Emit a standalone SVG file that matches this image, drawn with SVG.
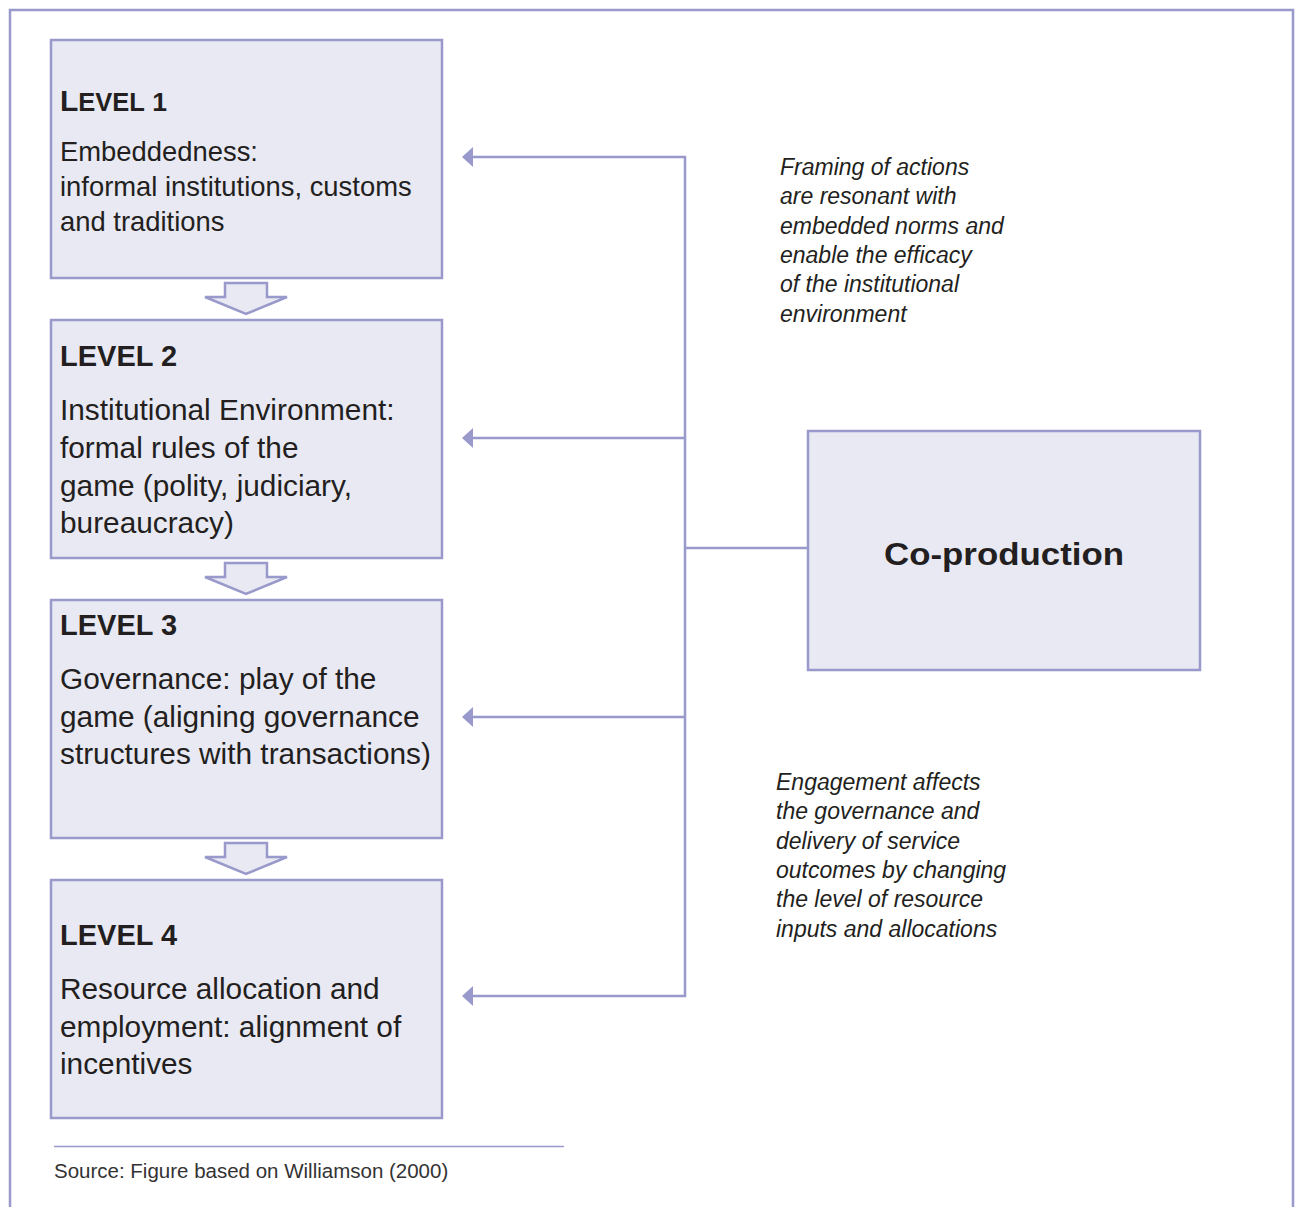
<svg xmlns="http://www.w3.org/2000/svg" width="1297" height="1207" viewBox="0 0 1297 1207">
<style>
.box{fill:#e9e9f3;stroke:#9999cc;stroke-width:2.5}
.blk{fill:#e9e9f3;stroke:#9999cc;stroke-width:2.5;stroke-linejoin:miter}
.ln{fill:none;stroke:#9999cc;stroke-width:2.5}
.ah{fill:#9999cc}
text{font-family:"Liberation Sans",Arial,sans-serif;fill:#231f20}
.hd{font-weight:bold;font-size:29px}
.b1{font-size:27.4px}
.b{font-size:29.8px}
.it{font-style:italic;font-size:23px}
.cp{font-weight:bold;font-size:32px}
.src{font-size:20.5px;fill:#333}
</style>
<rect width="1297" height="1207" fill="#ffffff"/>
<path class="ln" d="M10,1207 V10 H1293 V1207"/>

<g id="level1">
<rect class="box" x="51" y="40" width="391" height="238"/>
<text x="60" y="111" font-weight="bold"><tspan font-size="30">L</tspan><tspan font-size="25.5">EVEL</tspan><tspan font-size="26.5"> 1</tspan></text>
<text class="b1" x="60" y="161">Embeddedness:</text>
<text class="b1" x="60" y="196">informal institutions, customs</text>
<text class="b1" x="60" y="231">and traditions</text>
</g>
<g id="arrow12"><path class="blk" d="M225,283 H267 V297 H287 L246,314 L205,297 H225 Z"/></g>

<g id="level2">
<rect class="box" x="51" y="320" width="391" height="238"/>
<text class="hd" x="60" y="366">LEVEL 2</text>
<text class="b" x="60" y="420">Institutional Environment:</text>
<text class="b" x="60" y="458">formal rules of the</text>
<text class="b" x="60" y="496">game (polity, judiciary,</text>
<text class="b" x="60" y="533">bureaucracy)</text>
</g>
<g id="arrow23"><path class="blk" d="M225,563 H267 V577 H287 L246,594 L205,577 H225 Z"/></g>

<g id="level3">
<rect class="box" x="51" y="600" width="391" height="238"/>
<text class="hd" x="60" y="635">LEVEL 3</text>
<text class="b" x="60" y="689">Governance: play of the</text>
<text class="b" x="60" y="727">game (aligning governance</text>
<text class="b" x="60" y="764">structures with transactions)</text>
</g>
<g id="arrow34"><path class="blk" d="M225,843 H267 V857 H287 L246,874 L205,857 H225 Z"/></g>

<g id="level4">
<rect class="box" x="51" y="880" width="391" height="238"/>
<text class="hd" x="60" y="945">LEVEL 4</text>
<text class="b" x="60" y="999">Resource allocation and</text>
<text class="b" x="60" y="1037">employment: alignment of</text>
<text class="b" x="60" y="1074">incentives</text>
</g>

<g id="coproduction">
<rect class="box" x="808" y="431" width="392" height="239"/>
<text class="cp" x="1004" y="565" text-anchor="middle" textLength="240" lengthAdjust="spacingAndGlyphs">Co-production</text>
</g>

<g id="connectors">
<path class="ln" d="M472,157 H685 V996 H472"/>
<path class="ln" d="M472,438 H685"/>
<path class="ln" d="M472,717 H685"/>
<path class="ln" d="M685,548 H808"/>
<path class="ah" d="M462,157 L473,147 L473,167 Z"/>
<path class="ah" d="M462,438 L473,428 L473,448 Z"/>
<path class="ah" d="M462,717 L473,707 L473,727 Z"/>
<path class="ah" d="M462,996 L473,986 L473,1006 Z"/>
</g>

<g id="note1">
<text class="it" x="780" y="175">Framing of actions</text>
<text class="it" x="780" y="204.3">are resonant with</text>
<text class="it" x="780" y="233.6">embedded norms and</text>
<text class="it" x="780" y="262.9">enable the efficacy</text>
<text class="it" x="780" y="292.2">of the institutional</text>
<text class="it" x="780" y="321.5">environment</text>
</g>

<g id="note2">
<text class="it" x="776" y="790">Engagement affects</text>
<text class="it" x="776" y="819.3">the governance and</text>
<text class="it" x="776" y="848.6">delivery of service</text>
<text class="it" x="776" y="877.9">outcomes by changing</text>
<text class="it" x="776" y="907.2">the level of resource</text>
<text class="it" x="776" y="936.5">inputs and allocations</text>
</g>

<g id="source">
<line x1="54" y1="1146.5" x2="564" y2="1146.5" stroke="#9999cc" stroke-width="1.5"/>
<text class="src" x="54" y="1178">Source: Figure based on Williamson (2000)</text>
</g>
</svg>
